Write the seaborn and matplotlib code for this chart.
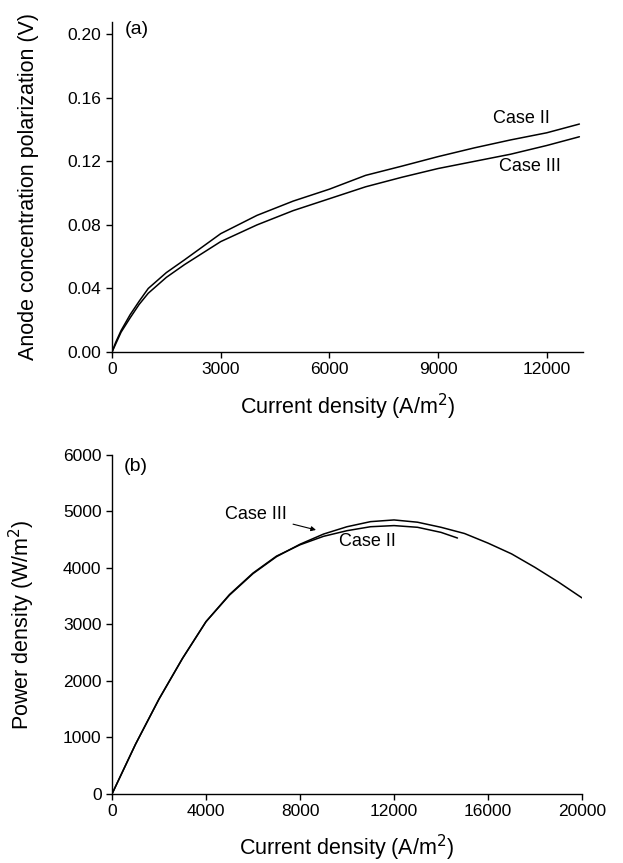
"""Anode concentration polarization and power density vs current density, Case II / Case III."""

import matplotlib

matplotlib.use("Agg")
import matplotlib.pyplot as plt
import pandas as pd
import seaborn as sns

# (a) anode concentration polarization, V
cur_a = [0, 100, 250, 500, 750, 1000, 1500, 2000, 3000, 4000, 5000, 6000, 7000,
         8000, 9000, 10000, 11000, 12000, 12900]
pol_case2 = [0.0, 0.006, 0.0135, 0.0235, 0.032, 0.040, 0.050, 0.058, 0.0745,
             0.086, 0.095, 0.1025, 0.1112, 0.117, 0.123, 0.1285, 0.1335,
             0.138, 0.1435]
pol_case3 = [0.0, 0.005, 0.0125, 0.0215, 0.030, 0.037, 0.047, 0.055, 0.0695,
             0.080, 0.089, 0.0965, 0.104, 0.110, 0.1155, 0.120, 0.1245,
             0.130, 0.1355]

# (b) power density, W/m2
cur_b3 = [0, 1000, 2000, 3000, 4000, 5000, 6000, 7000, 8000, 9000, 10000,
          11000, 12000, 13000, 14000, 15000, 16000, 17000, 18000, 19000, 20000]
pow_case3 = [0, 880, 1680, 2400, 3050, 3520, 3900, 4200, 4420, 4600, 4730,
             4820, 4850, 4810, 4720, 4610, 4440, 4250, 4010, 3750, 3470]
cur_b2 = [0, 1000, 2000, 3000, 4000, 5000, 6000, 7000, 8000, 9000, 10000,
          11000, 12000, 13000, 14000, 14700]
pow_case2 = [0, 880, 1680, 2400, 3050, 3530, 3910, 4210, 4410, 4560, 4660,
             4730, 4750, 4720, 4630, 4530]

sns.set_theme(style="ticks")
plt.rcParams["font.family"] = ["Liberation Sans", "DejaVu Sans"]
plt.rcParams["text.color"] = "black"
plt.rcParams["axes.labelcolor"] = "black"
plt.rcParams["axes.edgecolor"] = "black"
plt.rcParams["axes.linewidth"] = 1.0
plt.rcParams["xtick.major.width"] = 1.0
plt.rcParams["ytick.major.width"] = 1.0
plt.rcParams["xtick.major.size"] = 4
plt.rcParams["ytick.major.size"] = 4
plt.rcParams["xtick.labelsize"] = 12.5
plt.rcParams["ytick.labelsize"] = 12.5

fig = plt.figure(figsize=(6.23, 8.63), dpi=100)
ax1 = fig.add_axes([0.1798, 0.5921, 0.756, 0.3829])
ax2 = fig.add_axes([0.1798, 0.0800, 0.7544, 0.3928])

df_a = pd.DataFrame({"i": cur_a, "ii": pol_case2, "iii": pol_case3})
sns.lineplot(data=df_a, x="i", y="ii", ax=ax1, color="black", lw=1.1, sort=False)
sns.lineplot(data=df_a, x="i", y="iii", ax=ax1, color="black", lw=1.1, sort=False)
ax1.set_xlim(0, 13000)
ax1.set_ylim(0, 0.208)
ax1.set_xticks([0, 3000, 6000, 9000, 12000])
ax1.set_yticks([0.0, 0.04, 0.08, 0.12, 0.16, 0.20])
ax1.set_yticklabels([f"{v:.2f}" for v in [0.0, 0.04, 0.08, 0.12, 0.16, 0.20]])
ax1.set_xlabel("Current density (A/m$^2$)", fontsize=15.5, labelpad=10)
ax1.set_ylabel("Anode concentration polarization (V)", fontsize=15.5, labelpad=21)
ax1.text(11290, 0.147, "Case II", fontsize=13, ha="center", va="center")
ax1.text(11530, 0.1167, "Case III", fontsize=13, ha="center", va="center")
ax1.text(350, 0.203, "(a)", fontsize=14, ha="left", va="center")

df_b3 = pd.DataFrame({"i": cur_b3, "p": pow_case3})
df_b2 = pd.DataFrame({"i": cur_b2, "p": pow_case2})
sns.lineplot(data=df_b3, x="i", y="p", ax=ax2, color="black", lw=1.1, sort=False)
sns.lineplot(data=df_b2, x="i", y="p", ax=ax2, color="black", lw=1.1, sort=False)
ax2.set_xlim(0, 20000)
ax2.set_ylim(0, 6000)
ax2.set_xticks([0, 4000, 8000, 12000, 16000, 20000])
ax2.set_yticks([0, 1000, 2000, 3000, 4000, 5000, 6000])
ax2.set_xlabel("Current density (A/m$^2$)", fontsize=15.5, labelpad=10)
ax2.set_ylabel("Power density (W/m$^2$)", fontsize=15.5, labelpad=19)
ax2.annotate("Case III", xy=(8680, 4673), xytext=(7450, 4940), fontsize=13,
             ha="right", va="center",
             arrowprops=dict(arrowstyle="-|>", color="black", lw=0.8,
                             mutation_scale=7, shrinkA=2, shrinkB=0))
ax2.text(10850, 4460, "Case II", fontsize=13, ha="center", va="center")
ax2.text(500, 5800, "(b)", fontsize=14, ha="left", va="center")

for ax in (ax1, ax2):
    sns.despine(ax=ax)
    ax.tick_params(direction="out", colors="black")

fig.savefig("out.png", dpi=100)
